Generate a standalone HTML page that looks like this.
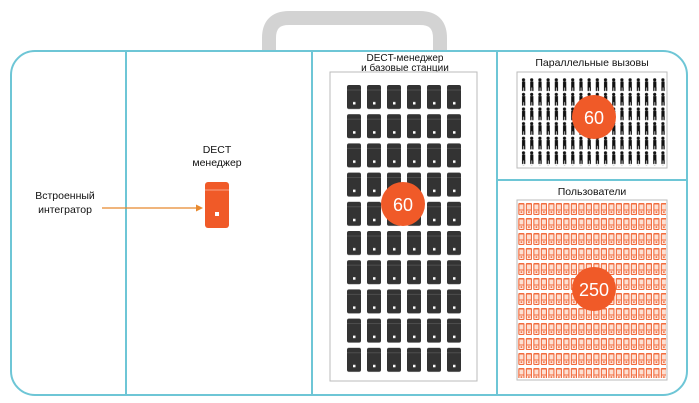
<!DOCTYPE html>
<html><head><meta charset="utf-8"><style>
html,body{margin:0;padding:0;background:#fff;width:699px;height:403px;overflow:hidden}
svg{display:block}
text{font-family:"Liberation Sans",sans-serif;fill:#111}
</style></head><body>
<svg width="699" height="403" viewBox="0 0 699 403" xmlns="http://www.w3.org/2000/svg">
<defs>
<pattern id="bs" x="347" y="85" width="20" height="29.2" patternUnits="userSpaceOnUse">
<rect x="0" y="0" width="14" height="24" rx="2" fill="#333"/>
<line x1="0" y1="5" x2="14" y2="5" stroke="#555" stroke-width="0.8"/>
<rect x="6" y="17" width="2.5" height="2.5" fill="#fff"/>
</pattern>
<pattern id="ppl" x="520" y="78" width="8.2" height="14.6" patternUnits="userSpaceOnUse">
<circle cx="3.5" cy="1.8" r="1.6" fill="#111"/>
<rect x="2" y="3.5" width="3.2" height="6" fill="#111"/>
<rect x="2" y="9" width="1.3" height="4" fill="#111"/>
<rect x="4" y="9" width="1.3" height="4" fill="#111"/>
</pattern>
<pattern id="ph" x="518" y="203" width="7.5" height="15" patternUnits="userSpaceOnUse">
<rect x="0.3" y="0" width="6.2" height="12" rx="1" fill="#f26c3e"/>
<rect x="1.4" y="1.5" width="4" height="5" fill="#fde0d2"/>
<rect x="1.4" y="7.5" width="4" height="3.5" fill="#fbe8df"/>
<rect x="2.6" y="8.3" width="1.6" height="1.6" fill="#f26c3e"/>
</pattern>
</defs>
<path d="M269 50 V38 Q269 18 289 18 H420 Q440 18 440 38 V50" fill="none" stroke="#d3d3d3" stroke-width="14"/>
<rect x="11" y="51" width="676" height="344" rx="24" fill="none" stroke="#6ec6d6" stroke-width="2"/>
<line x1="126" y1="51" x2="126" y2="395" stroke="#6ec6d6" stroke-width="2"/>
<line x1="312" y1="51" x2="312" y2="395" stroke="#6ec6d6" stroke-width="2"/>
<line x1="497" y1="51" x2="497" y2="395" stroke="#6ec6d6" stroke-width="2"/>
<line x1="497" y1="180" x2="687" y2="180" stroke="#6ec6d6" stroke-width="2"/>
<text x="65" y="199" font-size="10.5" text-anchor="middle">Встроенный</text>
<text x="65" y="213" font-size="10.5" text-anchor="middle">интегратор</text>
<line x1="102" y1="208" x2="196" y2="208" stroke="#e8892e" stroke-width="1.3"/>
<path d="M196 204.5 L203 208 L196 211.5Z" fill="#e8892e"/>
<text x="217" y="153" font-size="10.5" text-anchor="middle">DECT</text>
<text x="217" y="166" font-size="10.5" text-anchor="middle">менеджер</text>
<rect x="205" y="182" width="24" height="46" rx="3" fill="#f05a28"/>
<line x1="205" y1="190" x2="229" y2="190" stroke="#fff" stroke-width="0.7" opacity="0.6"/>
<rect x="215" y="212" width="4" height="4" fill="#fff"/>
<text x="405" y="61" font-size="10" text-anchor="middle">DECT-менеджер</text>
<text x="405" y="71" font-size="10" text-anchor="middle">и базовые станции</text>
<rect x="330" y="72" width="147" height="309" fill="#fff" stroke="#bbb" stroke-width="1"/>
<rect x="347" y="85" width="120" height="292" fill="url(#bs)"/>
<circle cx="403" cy="204" r="22" fill="#f05a28"/>
<text x="403" y="211" font-size="18" text-anchor="middle" style="fill:#fff">60</text>
<text x="592" y="66" font-size="10.5" text-anchor="middle">Параллельные вызовы</text>
<rect x="517" y="72" width="150" height="96" fill="#fff" stroke="#bbb" stroke-width="1"/>
<rect x="520" y="78" width="146" height="88" fill="url(#ppl)"/>
<circle cx="594" cy="117" r="22" fill="#f05a28"/>
<text x="594" y="124" font-size="18" text-anchor="middle" style="fill:#fff">60</text>
<text x="592" y="195" font-size="10.5" text-anchor="middle">Пользователи</text>
<rect x="517" y="200" width="150" height="180" fill="#fff" stroke="#bbb" stroke-width="1"/>
<rect x="518" y="203" width="148" height="175" fill="url(#ph)"/>
<circle cx="594" cy="289" r="22" fill="#f05a28"/>
<text x="594" y="296" font-size="18" text-anchor="middle" style="fill:#fff">250</text>
</svg>
</body></html>
